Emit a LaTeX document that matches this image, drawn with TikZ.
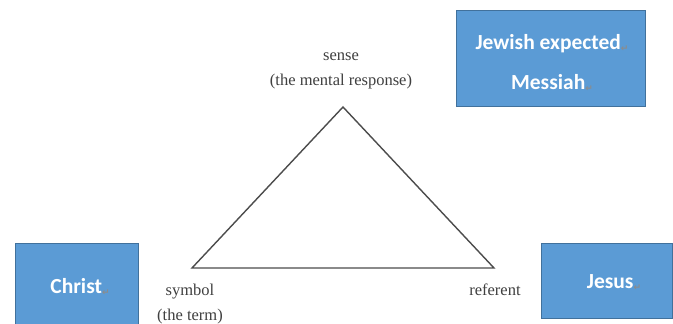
\documentclass[tikz,border=0pt]{standalone}
\usepackage{fontspec}
\setmainfont{Liberation Serif}
\newfontfamily\boxfont{Carlito}
\newfontfamily\symfont{DejaVu Sans}
\definecolor{boxfill}{HTML}{5B9BD5}
\definecolor{boxline}{HTML}{41719C}
\newcommand{\pmark}{{\symfont\fontsize{9}{9}\selectfont\textcolor{black!45}{\raisebox{-2pt}{\char"21B5}}}}
\tikzset{
  boxshape/.style={draw=boxline, line width=1pt, fill=boxfill},
  boxtext/.style={text=white, font=\boxfont\bfseries\fontsize{21.5}{40}\selectfont, align=center, inner sep=0pt},
  lbl/.style={font=\fontsize{16.5}{25}\selectfont, text=black!75, align=center, inner sep=0pt},
  tri/.style={draw=black!70, line width=1.4pt, line join=miter}
}
\begin{document}
\begin{tikzpicture}[x=1pt,y=-1pt]
\useasboundingbox (0,0) rectangle (673,324);
\fill[white] (0,0) rectangle (673,324);
\begin{scope}
\clip (0,0) rectangle (673,324);
\draw[boxshape] (456,10) rectangle (645,106);
\draw[boxshape] (15,243) rectangle (138,330);
\draw[boxshape] (541,243) rectangle (672,318);
\end{scope}
\node[boxtext] (jew) at (552,63) {Jewish expected\pmark\\Messiah\pmark};
\node[boxtext] (christ) at (80,287) {Christ\pmark};
\node[boxtext] (jesus) at (614,283) {Jesus\pmark};
\coordinate (apex) at (343,107);
\coordinate (sym) at (192,268);
\coordinate (ref) at (494,268);
\draw[tri] (apex) -- (ref) -- (sym) -- cycle;
\node[lbl] (sense) at (341,71) {sense\\(the mental response)};
\node[lbl] (symbol) at (190,304) {symbol\\(the term)};
\node[lbl] (referent) at (495,290) {referent};
\end{tikzpicture}
\end{document}
